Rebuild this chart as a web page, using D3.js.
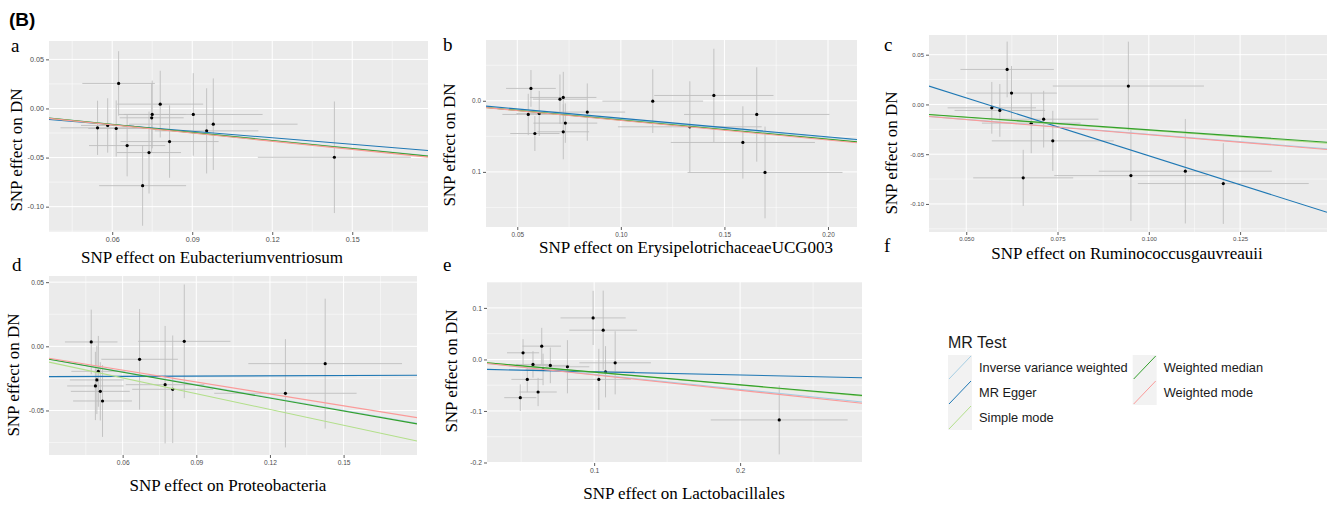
<!DOCTYPE html>
<html>
<head>
<meta charset="utf-8">
<script src="https://cdn.jsdelivr.net/npm/d3@7"></script>
<style>
  body { margin: 0; background: #fff; }
  svg { display: block; }
  .tick text { font-family: "Liberation Sans", Arial, sans-serif; fill: #4d4d4d; }
  .tick line { stroke: #333; stroke-width: 0.8; }
  .domain { display: none; }
  .ttl { font-family: "Liberation Serif", "Times New Roman", serif; font-size: 17px; fill: #000; }
  .lbl { font-family: "Liberation Serif", "Times New Roman", serif; font-size: 19px; fill: #000; }
  .leg { font-family: "Liberation Sans", Arial, sans-serif; fill: #1a1a1a; }
</style>
</head>
<body>
<svg id="chart" width="1336" height="508"></svg>
<script>
// Method names and colours (MR Test legend)
var methods = ['Inverse variance weighted', 'MR Egger', 'Simple mode', 'Weighted median', 'Weighted mode'];
var methodColors = ['#A6CEE3', '#1F78B4', '#B2DF8A', '#33A02C', '#FB9A99'];

// Panel a: Eubacteriumventriosum
var aBetaX = [0.0545, 0.0583, 0.0615, 0.0624, 0.0656, 0.0714, 0.0738, 0.0748, 0.0750, 0.0780, 0.0815, 0.0904, 0.0954, 0.0979, 0.1433];
var aBetaY = [-0.0197, -0.0173, -0.0204, 0.0255, -0.0378, -0.0786, -0.0449, -0.0095, -0.0061, 0.0044, -0.0337, -0.0061, -0.0228, -0.0160, -0.0497];
var aSeX = [0.0139, 0.0100, 0.0105, 0.0136, 0.0143, 0.0163, 0.0120, 0.0120, 0.0125, 0.0161, 0.0184, 0.0260, 0.0194, 0.0316, 0.0287];
var aSeY = [0.0276, 0.0277, 0.0286, 0.0328, 0.0313, 0.0408, 0.0417, 0.0350, 0.0345, 0.0340, 0.0369, 0.0420, 0.0434, 0.0466, 0.0568];
var aSlopes = [-0.270, -0.223, -0.276, -0.272, -0.278];
var aIntercepts = [0, -0.0031, 0, 0, 0];
var aXTicks = [0.06, 0.09, 0.12, 0.15];
var aXLabels = ['0.06', '0.09', '0.12', '0.15'];
var aYTicks = [0.05, 0, -0.05, -0.10];
var aYLabels = ['0.05', '0.00', '-0.05', '-0.10'];

// Panel b: ErysipelotrichaceaeUCG003
var bBetaX = [0.0553, 0.0566, 0.0585, 0.0606, 0.0706, 0.0722, 0.0722, 0.0732, 0.0838, 0.1154, 0.1333, 0.1449, 0.1589, 0.1656, 0.1696];
var bBetaY = [-0.0192, 0.0174, -0.0460, -0.0178, 0.0023, 0.0047, -0.0436, -0.0314, -0.0159, -0.0005, -0.0366, 0.0075, -0.0586, -0.0192, -0.1008];
var bSeX = [0.0125, 0.0120, 0.0119, 0.0110, 0.0130, 0.0160, 0.0125, 0.0154, 0.0183, 0.0243, 0.0347, 0.0288, 0.0348, 0.0351, 0.0374];
var bSeY = [0.0290, 0.0258, 0.0246, 0.0317, 0.0347, 0.0360, 0.0387, 0.0277, 0.0403, 0.0448, 0.0640, 0.0657, 0.0509, 0.0664, 0.0645];
var bSlopes = [-0.258, -0.262, -0.272, -0.270, -0.276];
var bIntercepts = [0, 0.0016, 0, 0, 0];
var bXTicks = [0.05, 0.10, 0.15, 0.20];
var bXLabels = ['0.05', '0.10', '0.15', '0.20'];
var bYTicks = [0, -0.1];
var bYLabels = ['0.0', '0.1'];

// Panel c: Ruminococcusgauvreauii
var cBetaX = [0.0570, 0.0592, 0.0612, 0.0624, 0.0656, 0.0678, 0.0712, 0.0737, 0.0944, 0.0951, 0.1100, 0.1204];
var cBetaY = [-0.0034, -0.0060, 0.0352, 0.0114, -0.0738, -0.0188, -0.0148, -0.0366, 0.0185, -0.0715, -0.0671, -0.0795];
var cSeX = [0.0121, 0.0124, 0.0128, 0.0124, 0.0137, 0.0135, 0.0150, 0.0167, 0.0207, 0.0210, 0.0237, 0.0234];
var cSeY = [0.0260, 0.0265, 0.0280, 0.0272, 0.0282, 0.0302, 0.0285, 0.0302, 0.0446, 0.0456, 0.0525, 0.0406];
var cSlopes = [-0.300, -1.164, -0.262, -0.255, -0.304];
var cIntercepts = [0, 0.0648, 0, 0, 0];
var cXTicks = [0.05, 0.075, 0.10, 0.125];
var cXLabels = ['0.050', '0.075', '0.100', '0.125'];
var cYTicks = [0.05, 0, -0.05, -0.10];
var cYLabels = ['0.05', '0.00', '-0.05', '-0.10'];

// Panel d: Proteobacteria
var dBetaX = [0.0472, 0.0501, 0.0495, 0.0489, 0.0509, 0.0518, 0.0669, 0.0773, 0.0804, 0.0851, 0.1263, 0.1425];
var dBetaY = [0.0034, -0.0195, -0.0262, -0.0309, -0.0351, -0.0426, -0.0101, -0.0299, -0.0335, 0.0039, -0.0366, -0.0135];
var dSeX = [0.0107, 0.0110, 0.0110, 0.0115, 0.0120, 0.0120, 0.0156, 0.0160, 0.0165, 0.0188, 0.0290, 0.0313];
var dSeY = [0.0252, 0.0276, 0.0266, 0.0266, 0.0227, 0.0280, 0.0392, 0.0458, 0.0419, 0.0443, 0.0422, 0.0506];
var dSlopes = [-0.333, 0.0067, -0.410, -0.336, -0.309];
var dIntercepts = [0, -0.0238, 0, 0, 0];
var dXTicks = [0.06, 0.09, 0.12, 0.15];
var dXLabels = ['0.06', '0.09', '0.12', '0.15'];
var dYTicks = [0.05, 0, -0.05];
var dYLabels = ['0.05', '0.00', '-0.05'];

// Panel e: Lactobacillales
var eBetaX = [0.0494, 0.0513, 0.0542, 0.0581, 0.0616, 0.0641, 0.0650, 0.0700, 0.0817, 0.0993, 0.1032, 0.1062, 0.1078, 0.1144, 0.2268];
var eBetaY = [-0.0742, 0.0129, -0.0387, -0.0097, -0.0632, 0.0258, -0.0194, -0.0116, -0.0142, 0.0806, -0.0387, 0.0568, -0.0239, -0.0065, -0.1174];
var eSeX = [0.0110, 0.0110, 0.0109, 0.0115, 0.0128, 0.0132, 0.0120, 0.0130, 0.0150, 0.0223, 0.0220, 0.0232, 0.0200, 0.0245, 0.0469];
var eSeY = [0.0258, 0.0265, 0.0250, 0.0258, 0.0274, 0.0355, 0.0306, 0.0345, 0.0516, 0.0526, 0.0593, 0.0768, 0.0497, 0.0613, 0.0668];
var eSlopes = [-0.291, -0.0627, -0.250, -0.246, -0.300];
var eIntercepts = [0, -0.0177, 0, 0, 0];
var eXTicks = [0.1, 0.2];
var eXLabels = ['0.1', '0.2'];
var eYTicks = [0.1, 0, -0.1, -0.2];
var eYLabels = ['0.1', '0.0', '-0.1', '-0.2'];

// Layout of each panel (pixels) and its visible range
var panels = [
  { letter: 'a', xTitle: 'SNP effect on Eubacteriumventriosum',
    box: [49, 41, 428, 232], xDom: [0.0363, 0.1784], yDom: [-0.1258, 0.0687], tickFont: 7.2,
    letterPos: [11, 52], xTitlePos: [212, 263], yTitlePos: [22, 150],
    bx: aBetaX, by: aBetaY, sx: aSeX, sy: aSeY, slopes: aSlopes, ints: aIntercepts,
    xt: aXTicks, xl: aXLabels, yt: aYTicks, yl: aYLabels },
  { letter: 'b', xTitle: 'SNP effect on ErysipelotrichaceaeUCG003',
    box: [486, 40, 857, 227], xDom: [0.0349, 0.214], yDom: [-0.1775, 0.0855], tickFont: 6.4,
    letterPos: [443, 51], xTitlePos: [686, 253], yTitlePos: [455, 145],
    bx: bBetaX, by: bBetaY, sx: bSeX, sy: bSeY, slopes: bSlopes, ints: bIntercepts,
    xt: bXTicks, xl: bXLabels, yt: bYTicks, yl: bYLabels },
  { letter: 'c', xTitle: 'SNP effect on Ruminococcusgauvreauii',
    box: [929, 35, 1327, 232], xDom: [0.0398, 0.1488], yDom: [-0.1282, 0.0698], tickFont: 6,
    letterPos: [884, 51], xTitlePos: [1127, 259], yTitlePos: [897, 153],
    bx: cBetaX, by: cBetaY, sx: cSeX, sy: cSeY, slopes: cSlopes, ints: cIntercepts,
    xt: cXTicks, xl: cXLabels, yt: cYTicks, yl: cYLabels },
  { letter: 'd', xTitle: 'SNP effect on Proteobacteria',
    box: [49, 276, 417, 455], xDom: [0.030, 0.1799], yDom: [-0.0847, 0.0548], tickFont: 6.6,
    letterPos: [12, 271], xTitlePos: [228, 491], yTitlePos: [19, 375],
    bx: dBetaX, by: dBetaY, sx: dSeX, sy: dSeY, slopes: dSlopes, ints: dIntercepts,
    xt: dXTicks, xl: dXLabels, yt: dYTicks, yl: dYLabels },
  { letter: 'e', xTitle: 'SNP effect on Lactobacillales',
    box: [487, 282, 862, 463], xDom: [0.0266, 0.2835], yDom: [-0.201, 0.1503], tickFont: 6.8,
    letterPos: [443, 271], xTitlePos: [684, 499], yTitlePos: [457, 371],
    bx: eBetaX, by: eBetaY, sx: eSeX, sy: eSeY, slopes: eSlopes, ints: eIntercepts,
    xt: eXTicks, xl: eXLabels, yt: eYTicks, yl: eYLabels }
];

var svg = d3.select('#chart');

// minor grid positions: midpoints between majors, one step beyond each end
function minorTicks(ticks, dom) {
  var t = ticks.slice().sort(function (p, q) { return p - q; });
  var step = t[1] - t[0];
  var out = [];
  for (var v = t[0] - step / 2; v <= t[t.length - 1] + step / 2 + 1e-9; v += step) {
    if (v >= dom[0] - 1e-9 && v <= dom[1] + 1e-9) out.push(v);
  }
  return out;
}

panels.forEach(function (p, pi) {
  var x0 = p.box[0], y0 = p.box[1], x1 = p.box[2], y1 = p.box[3];
  var x = d3.scaleLinear().domain(p.xDom).range([x0, x1]);
  var y = d3.scaleLinear().domain(p.yDom).range([y1, y0]);
  var g = svg.append('g');

  var clipId = 'clip' + pi;
  g.append('clipPath').attr('id', clipId)
    .append('rect').attr('x', x0).attr('y', y0).attr('width', x1 - x0).attr('height', y1 - y0);

  g.append('rect').attr('x', x0).attr('y', y0).attr('width', x1 - x0).attr('height', y1 - y0)
    .attr('fill', '#EBEBEB');

  // minor grid
  g.selectAll('.mgx').data(minorTicks(p.xt, p.xDom)).join('line')
    .attr('x1', function (d) { return x(d); }).attr('x2', function (d) { return x(d); })
    .attr('y1', y0).attr('y2', y1).attr('stroke', '#fff').attr('stroke-width', 0.5);
  g.selectAll('.mgy').data(minorTicks(p.yt, p.yDom)).join('line')
    .attr('y1', function (d) { return y(d); }).attr('y2', function (d) { return y(d); })
    .attr('x1', x0).attr('x2', x1).attr('stroke', '#fff').attr('stroke-width', 0.5);
  // major grid
  g.selectAll('.gx').data(p.xt).join('line')
    .attr('x1', function (d) { return x(d); }).attr('x2', function (d) { return x(d); })
    .attr('y1', y0).attr('y2', y1).attr('stroke', '#fff').attr('stroke-width', 1);
  g.selectAll('.gy').data(p.yt).join('line')
    .attr('y1', function (d) { return y(d); }).attr('y2', function (d) { return y(d); })
    .attr('x1', x0).attr('x2', x1).attr('stroke', '#fff').attr('stroke-width', 1);

  var pts = p.bx.map(function (v, i) { return { x: v, y: p.by[i], sx: p.sx[i], sy: p.sy[i] }; });
  var inner = g.append('g').attr('clip-path', 'url(#' + clipId + ')');

  // error bars
  inner.selectAll('.ev').data(pts).join('line')
    .attr('x1', function (d) { return x(d.x); }).attr('x2', function (d) { return x(d.x); })
    .attr('y1', function (d) { return y(d.y - d.sy); }).attr('y2', function (d) { return y(d.y + d.sy); })
    .attr('stroke', '#BEBEBE').attr('stroke-width', 0.9);
  inner.selectAll('.eh').data(pts).join('line')
    .attr('y1', function (d) { return y(d.y); }).attr('y2', function (d) { return y(d.y); })
    .attr('x1', function (d) { return x(d.x - d.sx); }).attr('x2', function (d) { return x(d.x + d.sx); })
    .attr('stroke', '#BEBEBE').attr('stroke-width', 0.9);
  inner.selectAll('circle').data(pts).join('circle')
    .attr('cx', function (d) { return x(d.x); }).attr('cy', function (d) { return y(d.y); })
    .attr('r', 1.6).attr('fill', '#000');

  // MR regression lines
  var lines = methods.map(function (m, i) { return { b: p.slopes[i], a: p.ints[i], c: methodColors[i] }; });
  inner.selectAll('.mr').data(lines).join('line')
    .attr('x1', x0).attr('x2', x1)
    .attr('y1', function (d) { return y(d.a + d.b * p.xDom[0]); })
    .attr('y2', function (d) { return y(d.a + d.b * p.xDom[1]); })
    .attr('stroke', function (d) { return d.c; }).attr('stroke-width', 1.1);

  // axes
  var xa = g.append('g').attr('transform', 'translate(0,' + y1 + ')')
    .call(d3.axisBottom(x).tickValues(p.xt).tickSize(3).tickPadding(2)
      .tickFormat(function (d, i) { return p.xl[i]; }));
  var ya = g.append('g').attr('transform', 'translate(' + x0 + ',0)')
    .call(d3.axisLeft(y).tickValues(p.yt).tickSize(3).tickPadding(2)
      .tickFormat(function (d, i) { return p.yl[i]; }));
  xa.attr('font-size', null).selectAll('text').style('font-size', p.tickFont + 'px');
  ya.attr('font-size', null).selectAll('text').style('font-size', p.tickFont + 'px');

  g.append('text').attr('class', 'ttl').attr('text-anchor', 'middle')
    .attr('x', p.xTitlePos[0]).attr('y', p.xTitlePos[1]).text(p.xTitle);
  g.append('text').attr('class', 'ttl').attr('text-anchor', 'middle')
    .attr('transform', 'translate(' + p.yTitlePos[0] + ',' + p.yTitlePos[1] + ') rotate(-90)')
    .text('SNP effect on DN');
  g.append('text').attr('class', 'lbl').attr('x', p.letterPos[0]).attr('y', p.letterPos[1]).text(p.letter);
});

// panel f letter
svg.append('text').attr('class', 'lbl').attr('x', 884).attr('y', 252).text('f');

// figure tag
svg.append('text').attr('x', 9).attr('y', 26)
  .attr('font-family', '"Liberation Sans", Arial, sans-serif').attr('font-weight', 'bold')
  .attr('font-size', 19).text('(B)');

// legend
var leg = svg.append('g').attr('transform', 'translate(948,0)');
leg.append('text').attr('class', 'leg').attr('x', 0).attr('y', 348).attr('font-size', 16).text('MR Test');
var legOrder = [0, 1, 2, 3, 4];
var legItems = leg.selectAll('.li').data(legOrder).join('g')
  .attr('transform', function (d, i) {
    var col = i < 3 ? 0 : 1, row = i < 3 ? i : i - 3;
    return 'translate(' + (col * 184.7) + ',' + (355 + row * 25) + ')';
  });
legItems.append('rect').attr('width', 24).attr('height', 25).attr('fill', '#F2F2F2');
legItems.append('line').attr('x1', 1).attr('y1', 24).attr('x2', 23).attr('y2', 1)
  .attr('stroke', function (d) { return methodColors[d]; }).attr('stroke-width', 1);
legItems.append('text').attr('class', 'leg').attr('x', 31).attr('y', 17).attr('font-size', 12.8)
  .text(function (d) { return methods[d]; });
</script>
</body>
</html>
